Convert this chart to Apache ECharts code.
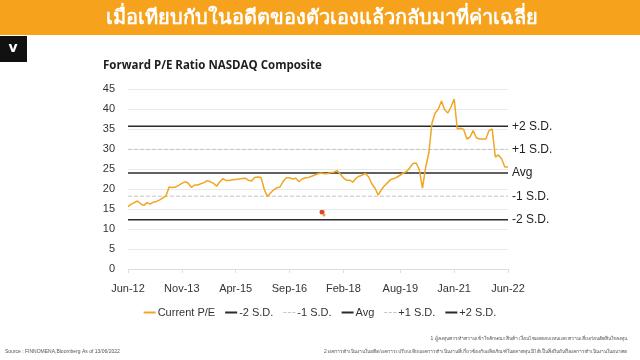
<!DOCTYPE html>
<html>
<head>
<meta charset="utf-8">
<script src="https://cdn.jsdelivr.net/npm/echarts@6/dist/echarts.min.js"></script>
<style>
  html, body { margin: 0; padding: 0; background: #fff; }
  #chart { width: 640px; height: 360px; }
</style>
</head>
<body>
<div id="chart"></div>
<script>
// months from Jun-12 to Jun-22
const monthNames = ['Jan','Feb','Mar','Apr','May','Jun','Jul','Aug','Sep','Oct','Nov','Dec'];
const months = [];
for (let i = 0; i <= 120; i++) {
  const k = 5 + i;
  months.push(monthNames[k % 12] + '-' + (12 + Math.floor(k / 12)));
}
const tickLabels = ['Jun-12', 'Nov-13', 'Apr-15', 'Sep-16', 'Feb-18', 'Aug-19', 'Jan-21', 'Jun-22'];

// forward P/E, one value per month
const peValues = [
  15.6, 16.2, 16.6, 17.0, 16.3, 15.9, 16.6, 16.2, 16.7, 16.9,
  17.3, 17.8, 18.3, 20.5, 20.4, 20.5, 20.9, 21.4, 21.8, 21.5,
  20.4, 21.0, 21.0, 21.3, 21.6, 22.1, 21.8, 21.4, 20.7, 21.8,
  22.6, 22.1, 22.1, 22.3, 22.4, 22.5, 22.6, 22.7, 22.2, 22.0,
  22.9, 23.0, 22.9, 20.0, 18.1, 19.0, 19.8, 20.3, 20.5, 21.9,
  22.8, 22.8, 22.5, 22.7, 21.8, 22.5, 22.8, 22.9, 23.2, 23.5,
  23.8, 24.0, 23.8, 23.9, 24.1, 24.2, 24.6, 23.8, 22.8, 22.2,
  22.2, 21.7, 22.7, 23.2, 23.5, 23.9, 23.0, 21.3, 20.2, 18.5,
  19.8, 20.8, 21.6, 22.4, 22.6, 23.0, 23.5, 24.0, 24.4, 25.3,
  26.4, 26.5, 24.8, 20.2, 25.5, 29.0, 36.5, 39.0, 40.0, 42.0,
  39.8, 39.0, 40.5, 42.5, 35.0, 35.2, 34.9, 32.5, 33.0, 34.6,
  32.8, 32.5, 32.5, 32.5, 34.6, 35.0, 28.0, 28.5, 27.5, 25.5,
  25.5
];

const bandNames = ['-2 S.D.', '-1 S.D.', 'Avg', '+1 S.D.', '+2 S.D.'];
const bandValues = [12.3, 18.2, 24.0, 29.9, 35.7];
const bandColors = ['#2b2b2b', '#c4c4c4', '#2b2b2b', '#c4c4c4', '#2b2b2b'];
const bandTypes = ['solid', 'dashed', 'solid', 'dashed', 'solid'];

const chart = echarts.init(document.getElementById('chart'));
const font = 'Liberation Sans';
const solidIcon = 'rect';
const dashIcon = 'path://M0,0h3v1h-3zM4.5,0h3v1h-3zM9,0h3v1h-3z';

const bandSeries = bandNames.map((name, i) => ({
  name: name,
  type: 'line',
  symbol: 'none',
  silent: true,
  data: [[months[0], bandValues[i]], [months[months.length - 1], bandValues[i]]],
  lineStyle: { color: bandColors[i], width: i % 2 === 0 ? 1.5 : 1, type: bandTypes[i] },
  itemStyle: { color: bandColors[i] },
  endLabel: {
    show: true,
    formatter: name,
    distance: 4,
    color: '#222',
    fontFamily: font,
    fontSize: 12
  },
  z: 2
}));

chart.setOption({
  animation: false,
  backgroundColor: '#fff',
  title: {
    text: 'Forward P/E Ratio NASDAQ Composite',
    left: 98,
    top: 55,
    textStyle: { fontFamily: 'Open Sans', fontWeight: 'bold', fontSize: 11.5, color: '#1e1e1e' }
  },
  legend: {
    bottom: 37,
    left: 'center',
    itemWidth: 12,
    itemHeight: 2,
    itemGap: 10,
    data: [{ name: 'Current P/E', icon: solidIcon }].concat(bandNames.map((n, i) => ({
      name: n,
      icon: bandTypes[i] === 'dashed' ? dashIcon : solidIcon
    }))),
    textStyle: { fontFamily: font, fontSize: 11, color: '#333', padding: [0, 0, 0, -3] }
  },
  grid: { left: 128, right: 132, top: 89, bottom: 91 },
  xAxis: {
    type: 'category',
    boundaryGap: false,
    data: months,
    axisLine: { lineStyle: { color: '#dcdcdc' } },
    axisTick: {
      interval: (idx, val) => tickLabels.includes(val),
      length: 4,
      lineStyle: { color: '#dcdcdc' }
    },
    axisLabel: {
      interval: (idx, val) => tickLabels.includes(val),
      color: '#333',
      fontFamily: font,
      fontSize: 11,
      margin: 14
    },
    splitLine: { show: false }
  },
  yAxis: {
    type: 'value',
    min: 0,
    max: 45,
    interval: 5,
    axisLine: { show: false },
    axisTick: { show: false },
    axisLabel: { color: '#333', fontFamily: font, fontSize: 11, margin: 13 },
    splitLine: { lineStyle: { color: '#e9e9e9' } }
  },
  series: bandSeries.concat([{
    name: 'Current P/E',
    type: 'line',
    symbol: 'none',
    data: peValues,
    lineStyle: { color: '#f0a623', width: 1.5 },
    itemStyle: { color: '#f0a623' },
    z: 3
  }]),
  graphic: [
    { type: 'rect', shape: { x: 0, y: 0, width: 640, height: 35 }, style: { fill: '#f6a21c' }, silent: true },
    {
      type: 'text', x: 322, y: 18,
      style: {
        text: 'เมื่อเทียบกับในอดีตของตัวเองแล้วกลับมาที่ค่าเฉลี่ย',
        fill: '#fff', font: 'bold 20px sans-serif', align: 'center', verticalAlign: 'middle'
      }
    },
    { type: 'rect', shape: { x: 0, y: 36, width: 27, height: 26 }, style: { fill: '#111' } },
    {
      type: 'text', x: 13, y: 48,
      style: { text: 'v', fill: '#fff', font: 'bold 14px "DejaVu Sans"', align: 'center', verticalAlign: 'middle' }
    },
    { type: 'circle', shape: { cx: 322, cy: 212, r: 2.5 }, style: { fill: '#d94a2b' } },
    { type: 'circle', shape: { cx: 324, cy: 215, r: 1.5 }, style: { fill: '#e7a33a' } },
    {
      type: 'text', x: 5, y: 352,
      style: { text: 'Source : FINNOMENA,Bloomberg As of 13/06/2022', fill: '#555', font: '5px "Liberation Sans"', verticalAlign: 'middle' }
    },
    {
      type: 'text', x: 627, y: 339,
      style: {
        text: '1 ผู้ลงทุนควรทำความเข้าใจลักษณะสินค้า เงื่อนไขผลตอบแทนและความเสี่ยงก่อนตัดสินใจลงทุน',
        fill: '#555', font: '5px sans-serif', align: 'right', verticalAlign: 'middle'
      }
    },
    {
      type: 'text', x: 627, y: 352,
      style: {
        text: '2 ผลการดำเนินงานในอดีต/ผลการเปรียบเทียบผลการดำเนินงานที่เกี่ยวข้องกับผลิตภัณฑ์ในตลาดทุน มิได้เป็นสิ่งยืนยันถึงผลการดำเนินงานในอนาคต',
        fill: '#555', font: '5px sans-serif', align: 'right', verticalAlign: 'middle'
      }
    }
  ]
});
</script>
</body>
</html>
